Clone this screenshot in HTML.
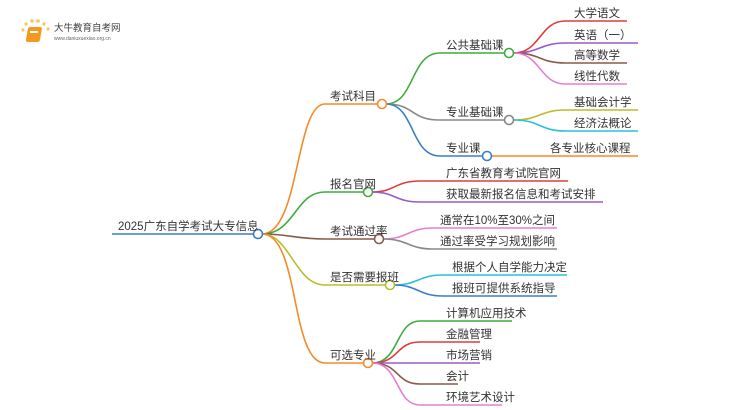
<!DOCTYPE html>
<html><head><meta charset="utf-8"><style>
html,body{margin:0;padding:0;background:#fff;}
svg{display:block;}
text{font-family:"Liberation Sans","Noto Sans CJK SC",sans-serif;fill:#333;font-size:11.5px;}
</style></head><body>
<svg width="750" height="410" viewBox="0 0 750 410" xmlns="http://www.w3.org/2000/svg">
<g fill="none" stroke-width="1.6">
<path d="M112 234 H253" stroke="#3a7ec8"/>
<path d="M262 234 C300 234,295 104,325 104 H378" stroke="#f58a2a"/>
<path d="M262 234 C295 234,295 192,325 192 H364" stroke="#3cae3c"/>
<path d="M262 234 C290 234,295 239,325 239 H375" stroke="#8a5a4a"/>
<path d="M262 234 C290 234,295 285,325 285 H386" stroke="#b8bd2c"/>
<path d="M262 234 C300 234,290 363,325 363 H364" stroke="#f58a2a"/>
<path d="M386 104 C415 104,410 53,440 53 H505" stroke="#3cae3c"/>
<path d="M386 104 C415 104,410 120,440 120 H505" stroke="#888"/>
<path d="M386 104 C415 104,410 156,440 156 H483" stroke="#3a7ec8"/>
<path d="M514 53 C540 53,540 21,565 21 H627" stroke="#e03b3b"/>
<path d="M514 53 C540 53,540 43,565 43 H638" stroke="#9b59c9"/>
<path d="M514 53 C540 53,540 63,565 63 H627" stroke="#8a5a4a"/>
<path d="M514 53 C540 53,540 84,565 84 H627" stroke="#e77fcf"/>
<path d="M514 120 C540 120,540 110,565 110 H638" stroke="#b8bd2c"/>
<path d="M514 120 C540 120,540 131,565 131 H638" stroke="#26c2d6"/>
<path d="M491 156 H638" stroke="#f58a2a"/>
<path d="M372 192 C395 192,395 181,420 181 H568" stroke="#e03b3b"/>
<path d="M372 192 C395 192,395 202,420 202 H603" stroke="#9b59c9"/>
<path d="M383 239 C408 239,408 228,433 228 H557" stroke="#e77fcf"/>
<path d="M383 239 C408 239,408 249,433 249 H557" stroke="#888"/>
<path d="M394 285 C418 285,418 275,443 275 H567" stroke="#26c2d6"/>
<path d="M394 285 C418 285,418 296,443 296 H557" stroke="#3a7ec8"/>
<path d="M372 363 C400 363,395 321,420 321 H512" stroke="#3cae3c"/>
<path d="M372 363 C400 363,395 342,420 342 H480" stroke="#e03b3b"/>
<path d="M372 363 H480" stroke="#9b59c9"/>
<path d="M372 363 C400 363,395 384,420 384 H458" stroke="#8a5a4a"/>
<path d="M372 363 C400 363,395 405,420 405 H502" stroke="#e77fcf"/>
</g>
<g fill="#fff" stroke-width="1.6">
<circle cx="258" cy="234" r="4.5" stroke="#3a7ec8"/>
<circle cx="382" cy="104" r="4.5" stroke="#f58a2a"/>
<circle cx="368" cy="192" r="4.5" stroke="#3cae3c"/>
<circle cx="379" cy="239" r="4.5" stroke="#8a5a4a"/>
<circle cx="390" cy="285" r="4.5" stroke="#b8bd2c"/>
<circle cx="368" cy="363" r="4.5" stroke="#f58a2a"/>
<circle cx="509" cy="53" r="4.5" stroke="#3cae3c"/>
<circle cx="509" cy="120" r="4.5" stroke="#888"/>
<circle cx="487" cy="156" r="4.5" stroke="#3a7ec8"/>
</g>
<text x="118" y="230">2025广东自学考试大专信息</text>
<text x="330" y="100">考试科目</text>
<text x="330" y="188">报名官网</text>
<text x="330" y="235">考试通过率</text>
<text x="330" y="281">是否需要报班</text>
<text x="330" y="359">可选专业</text>
<text x="446" y="49">公共基础课</text>
<text x="446" y="116">专业基础课</text>
<text x="446" y="152">专业课</text>
<text x="574" y="17">大学语文</text>
<text x="574" y="39">英语（一）</text>
<text x="574" y="59">高等数学</text>
<text x="574" y="80">线性代数</text>
<text x="574" y="106">基础会计学</text>
<text x="574" y="127">经济法概论</text>
<text x="550" y="152">各专业核心课程</text>
<text x="446" y="177">广东省教育考试院官网</text>
<text x="446" y="198">获取最新报名信息和考试安排</text>
<text x="440" y="224">通常在10%至30%之间</text>
<text x="440" y="245">通过率受学习规划影响</text>
<text x="452" y="271">根据个人自学能力决定</text>
<text x="452" y="292">报班可提供系统指导</text>
<text x="446" y="317">计算机应用技术</text>
<text x="446" y="338">金融管理</text>
<text x="446" y="359">市场营销</text>
<text x="446" y="380">会计</text>
<text x="446" y="401">环境艺术设计</text>
<g>
<circle cx="23" cy="30" r="1.6" fill="#f7c65a"/>
<circle cx="26" cy="24" r="1.6" fill="#f7c65a"/>
<circle cx="32" cy="21" r="1.8" fill="#f7c65a"/>
<circle cx="38" cy="21" r="1.8" fill="#f7c65a"/>
<circle cx="44" cy="24" r="1.6" fill="#f7c65a"/>
<circle cx="48" cy="29" r="1.6" fill="#f7c65a"/>
<rect x="33" y="27" width="14" height="15" rx="2" fill="#f39a1e" transform="skewX(-10)"/>
<rect x="30" y="31" width="8" height="2" fill="#fff"/>
<text x="54" y="31" style="font-size:9.5px;fill:#444">大牛教育自考网</text>
<text x="54" y="40" style="font-size:5px;fill:#666">www.daniuxuexiao.org.cn</text>
</g>
</svg>
</body></html>
